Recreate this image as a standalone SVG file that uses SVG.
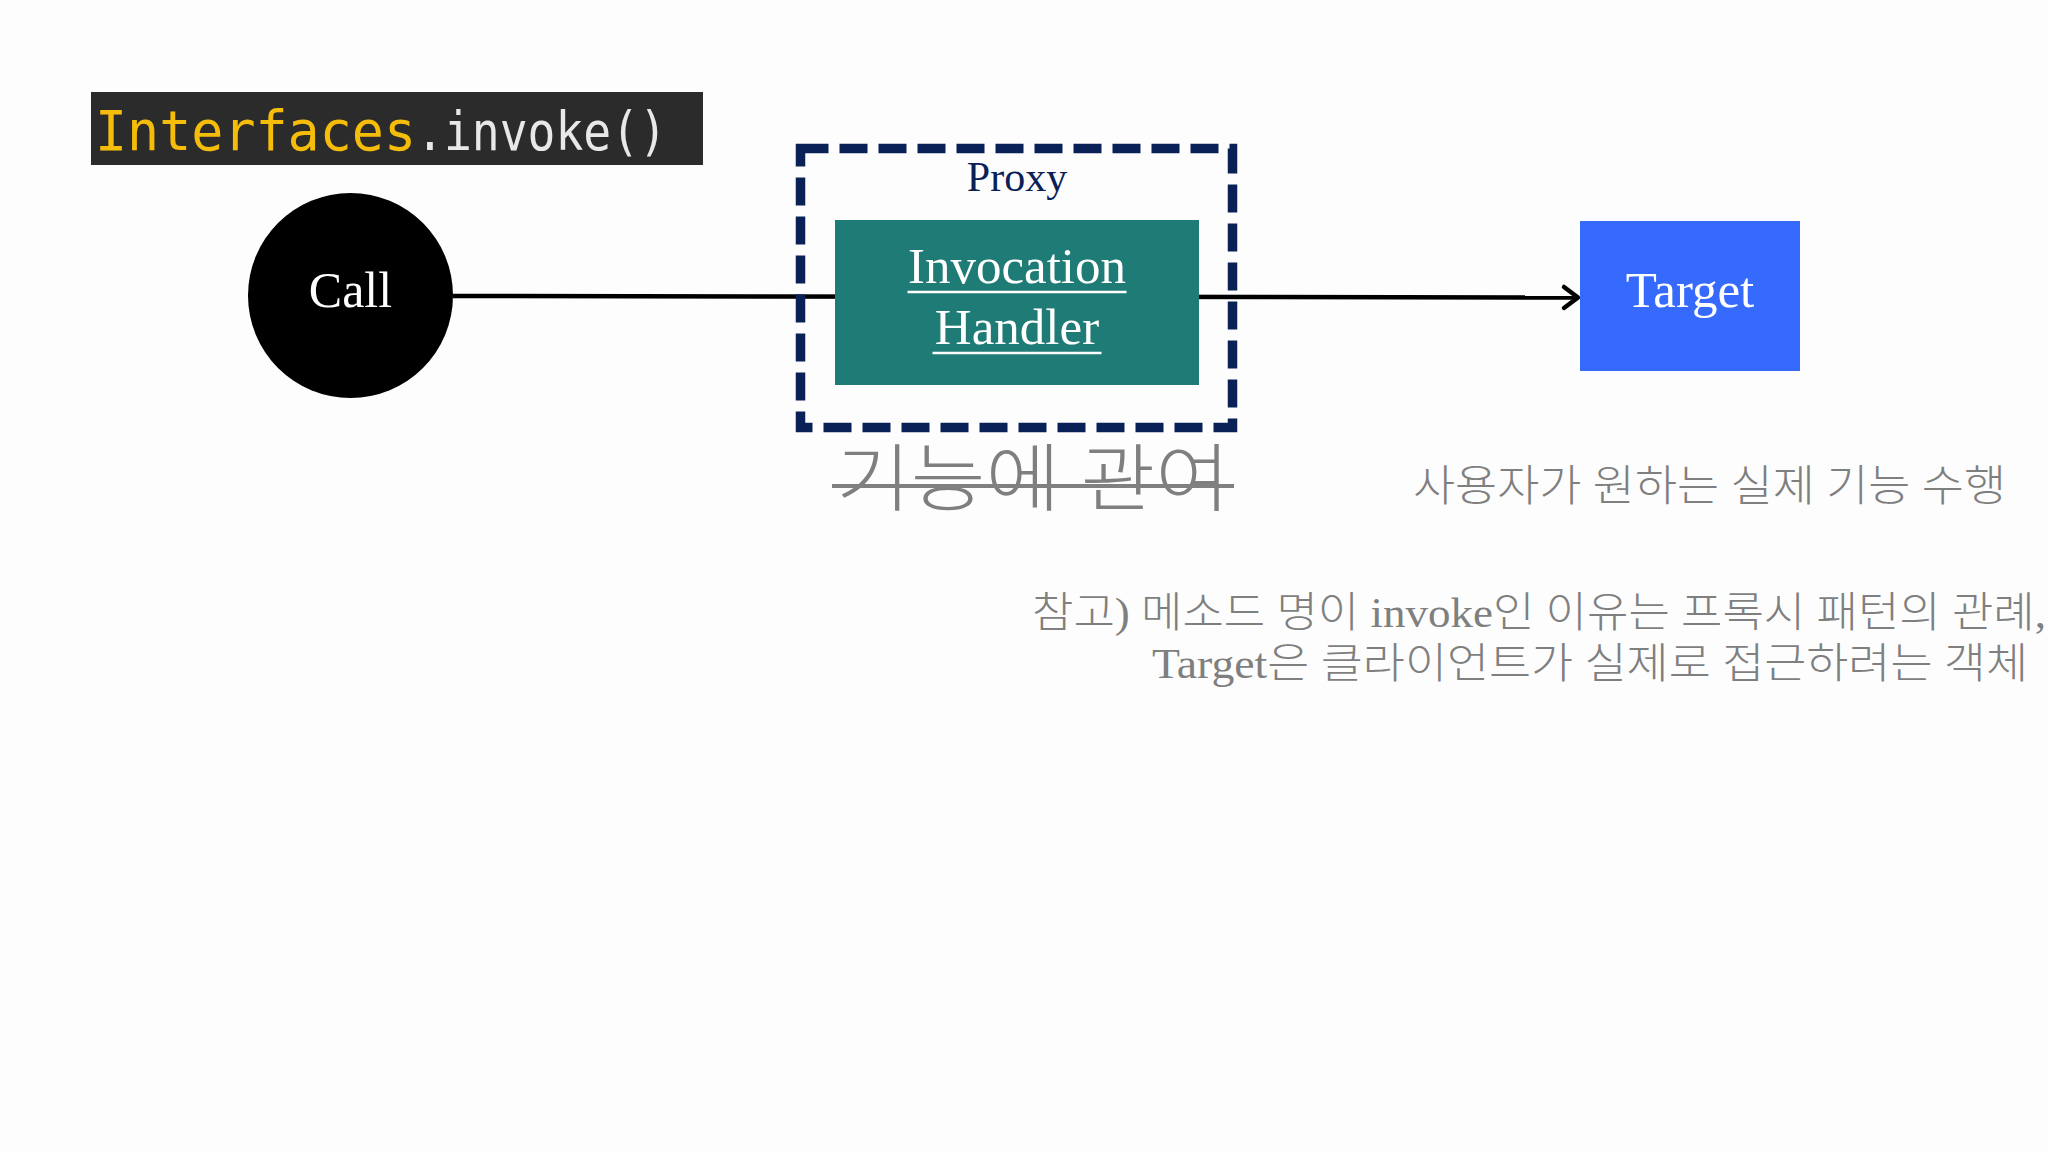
<svg xmlns="http://www.w3.org/2000/svg" width="2048" height="1152" viewBox="0 0 2048 1152">
  <defs>
    <style>
      .serif { font-family: "Liberation Serif", "Noto Sans CJK KR", serif; }
      .kr { font-family: "Liberation Serif", "Noto Sans CJK KR", sans-serif; fill: #7f7f7f; font-weight: 300; }
      .mono { font-family: "DejaVu Sans Mono", "Liberation Mono", monospace; }
      .wtxt { fill: #ffffff; }
      .conn { stroke: #000000; stroke-width: 4.5; fill: none; }
    </style>
    <marker id="openArrow" markerUnits="userSpaceOnUse" markerWidth="30" markerHeight="30" refX="20" refY="15" orient="auto">
      <path d="M6,4.5 L20,15 L6,25.5" fill="none" stroke="#000000" stroke-width="4.5" stroke-linecap="round" stroke-linejoin="round"/>
    </marker>
  </defs>

  <rect x="0" y="0" width="2048" height="1152" fill="#fdfdfd"/>

  <g id="code-label">
    <rect x="91" y="92" width="612" height="73" fill="#2b2b2b"/>
    <text class="mono" x="95" y="150" font-size="55" fill="#f5bd0a" textLength="321" lengthAdjust="spacingAndGlyphs">Interfaces</text>
    <text class="mono" x="416" y="150" font-size="53" fill="#e8e8e8" textLength="251" lengthAdjust="spacingAndGlyphs">.invoke()</text>
  </g>

  <g id="connectors">
    <line class="conn" x1="453" y1="296" x2="1578" y2="297.5" marker-end="url(#openArrow)"/>
  </g>

  <g id="call">
    <circle cx="350.5" cy="295.5" r="102.5" fill="#000000"/>
    <text class="serif wtxt" x="350.5" y="307" font-size="50" text-anchor="middle">Call</text>
  </g>

  <g id="proxy">
    <rect x="800.5" y="148.5" width="432" height="279" fill="none" stroke="#0a2158" stroke-width="9.5" stroke-dasharray="28 11"/>
    <text class="serif" x="1017" y="191" font-size="42" text-anchor="middle" fill="#0a2158">Proxy</text>
  </g>

  <g id="invocation-handler">
    <rect x="835" y="220" width="364" height="165" fill="#1f7b75"/>
    <text class="serif wtxt" x="1017" y="283" font-size="51" text-anchor="middle">Invocation</text>
    <line x1="907.5" y1="292" x2="1126.5" y2="292" stroke="#ffffff" stroke-width="2.5"/>
    <text class="serif wtxt" x="1017" y="344" font-size="51" text-anchor="middle">Handler</text>
    <line x1="932.5" y1="353" x2="1101.5" y2="353" stroke="#ffffff" stroke-width="2.5"/>
  </g>

  <g id="target">
    <rect x="1580" y="221" width="220" height="150" fill="#356afc"/>
    <text class="serif wtxt" x="1690" y="307" font-size="51" text-anchor="middle">Target</text>
  </g>

  <g id="label-proxy-role">
    <text class="kr" x="836" y="505" font-size="74" textLength="394" lengthAdjust="spacingAndGlyphs">기능에 관여</text>
    <line x1="832" y1="486" x2="1234" y2="486" stroke="#808080" stroke-width="4"/>
  </g>

  <g id="label-target-role">
    <text class="kr" x="1413" y="501" font-size="43" textLength="593" lengthAdjust="spacingAndGlyphs">사용자가 원하는 실제 기능 수행</text>
  </g>

  <g id="note">
    <text class="kr" x="1032" y="627" font-size="42" textLength="1014" lengthAdjust="spacingAndGlyphs">참고) 메소드 명이 invoke인 이유는 프록시 패턴의 관례,</text>
    <text class="kr" x="1152" y="678" font-size="42" textLength="876" lengthAdjust="spacingAndGlyphs">Target은 클라이언트가 실제로 접근하려는 객체</text>
  </g>
</svg>
